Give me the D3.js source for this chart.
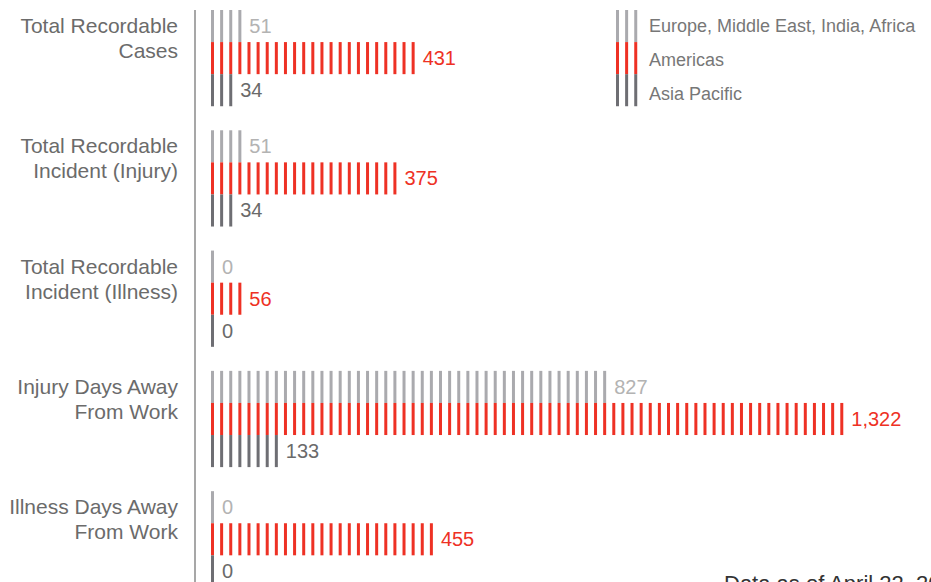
<!DOCTYPE html>
<html>
<head>
<meta charset="utf-8">
<script src="https://cdn.jsdelivr.net/npm/d3@7"></script>
<style>
  body { margin: 0; background: #fff; }
  svg { display: block; font-family: "Liberation Sans", Arial, sans-serif; }
</style>
</head>
<body>
<div id="chart"></div>
<script>
var categories = [
  ["Total Recordable", "Cases"],
  ["Total Recordable", "Incident (Injury)"],
  ["Total Recordable", "Incident (Illness)"],
  ["Injury Days Away", "From Work"],
  ["Illness Days Away", "From Work"]
];
var regions = ["Europe, Middle East, India, Africa", "Americas", "Asia Pacific"];
var emea = [51, 51, 0, 827, 0];
var americas = [431, 375, 56, 1322, 455];
var apac = [34, 34, 0, 133, 0];

var series = [emea, americas, apac];
var stripeColor = ["#aaaaae", "#ee3124", "#6e6e73"];
var labelColor = ["#b3b3b3", "#ee3124", "#6a6a6a"];

var width = 931, height = 582;
var x0 = 211, step = 9.12, stripeW = 3;

var svg = d3.select("#chart").append("svg")
  .attr("width", width)
  .attr("height", height);

var x = d3.scaleLinear().domain([0, 1322]).range([0, 629]);

var y = d3.scaleBand()
  .domain(d3.range(categories.length))
  .range([10, 587.4])
  .paddingInner(0.2)
  .paddingOuter(0);

var yInner = d3.scaleBand()
  .domain(d3.range(regions.length))
  .range([0, y.bandwidth()]);

// axis line
svg.append("line")
  .attr("x1", 195).attr("x2", 195)
  .attr("y1", 10).attr("y2", height)
  .attr("stroke", "#8a8a8a")
  .attr("stroke-width", 1.5);

// category labels
var cat = svg.selectAll(".cat")
  .data(categories)
  .enter().append("text")
  .attr("class", "cat")
  .attr("text-anchor", "end")
  .attr("fill", "#6b6b6b")
  .style("font-size", "21px");

cat.selectAll("tspan")
  .data(function(d, i) { return d.map(function(t, j) { return {t: t, i: i, j: j}; }); })
  .enter().append("tspan")
  .attr("x", 178)
  .attr("y", function(d) { return y(d.i) + 23 + d.j * 25; })
  .text(function(d) { return d.t; });

function stripeCount(v) {
  return Math.round(x(v) / step) + 1;
}

var groups = svg.selectAll(".grp")
  .data(categories)
  .enter().append("g")
  .attr("class", "grp")
  .attr("transform", function(d, i) { return "translate(0," + y(i) + ")"; });

groups.each(function(d, i) {
  var g = d3.select(this);
  series.forEach(function(s, r) {
    var n = stripeCount(s[i]);
    g.selectAll(".s" + r)
      .data(d3.range(n))
      .enter().append("rect")
      .attr("class", "s" + r)
      .attr("x", function(k) { return x0 + k * step; })
      .attr("y", yInner(r))
      .attr("width", stripeW)
      .attr("height", yInner.bandwidth())
      .attr("fill", stripeColor[r]);

    g.append("text")
      .attr("x", x0 + (n - 1) * step + stripeW + 8)
      .attr("y", yInner(r) + yInner.bandwidth() / 2)
      .attr("dy", "0.35em")
      .attr("fill", labelColor[r])
      .style("font-size", "20px")
      .text(d3.format(",")(s[i]));
  });
});

// legend
var legend = svg.append("g")
  .attr("class", "legend")
  .attr("transform", "translate(0," + y(0) + ")");

regions.forEach(function(name, r) {
  legend.selectAll(".l" + r)
    .data(d3.range(3))
    .enter().append("rect")
    .attr("x", function(k) { return 616 + k * step; })
    .attr("y", yInner(r))
    .attr("width", stripeW)
    .attr("height", yInner.bandwidth())
    .attr("fill", stripeColor[r]);

  legend.append("text")
    .attr("x", 649)
    .attr("y", yInner(r) + yInner.bandwidth() / 2 + r * 2)
    .attr("dy", "0.35em")
    .attr("fill", "#777")
    .style("font-size", "18px")
    .text(name);
});

svg.append("text")
  .attr("x", 724)
  .attr("y", 591)
  .attr("fill", "#333")
  .style("font-size", "22px")
  .text("Data as of April 22, 2013");
</script>
</body>
</html>
